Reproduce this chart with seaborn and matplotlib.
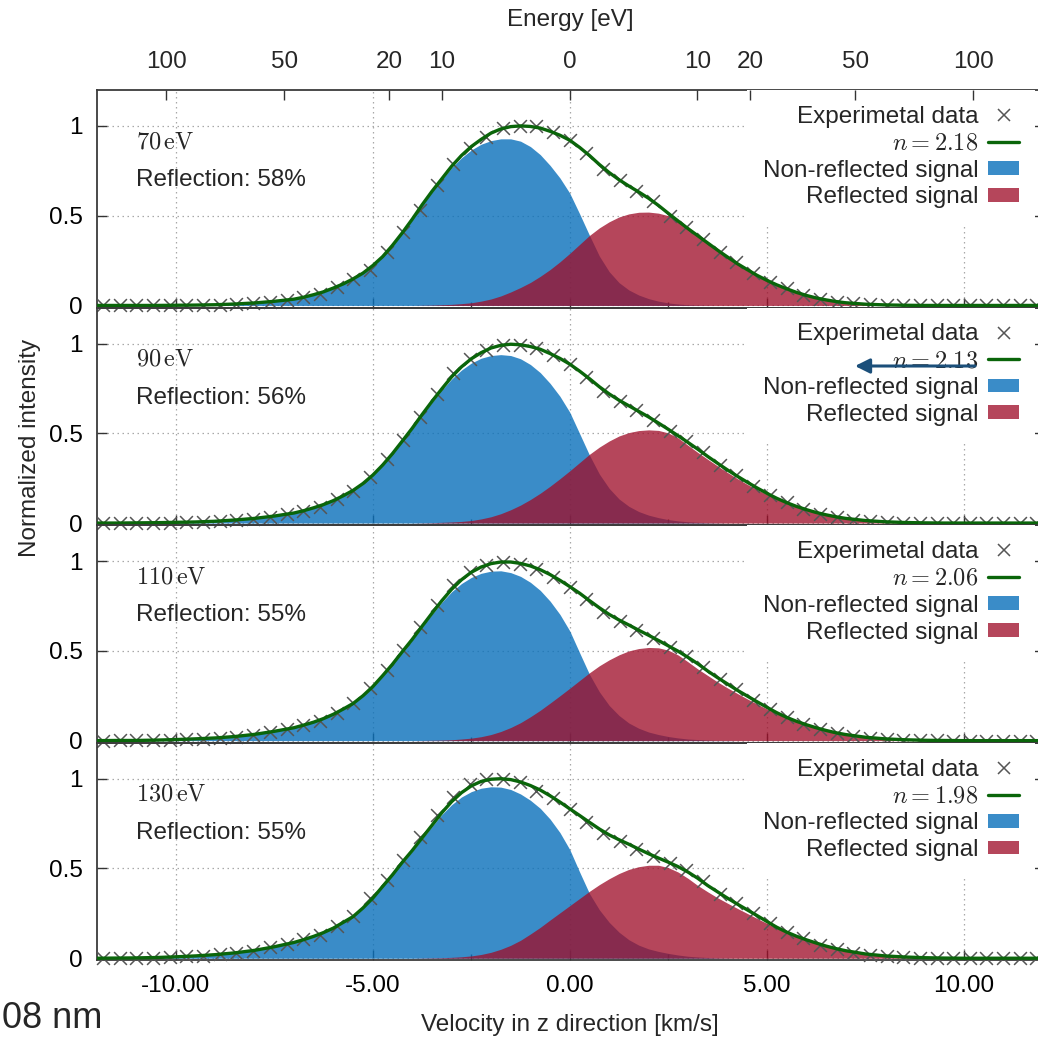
import numpy as np
import matplotlib
matplotlib.use("Agg")
import matplotlib.pyplot as plt
import seaborn as sns
from matplotlib.lines import Line2D
from matplotlib.patches import Patch

# ---------------- data ----------------
VEL = [-12.0, -11.5, -11.0, -10.5, -10.0, -9.5, -9.0, -8.5, -8.0, -7.5,
       -7.0, -6.75, -6.5, -6.25, -6.0, -5.75, -5.5, -5.25, -5.0, -4.75, -4.5, -4.25,
       -4.0, -3.75, -3.5, -3.25, -3.0, -2.75, -2.5, -2.25, -2.0, -1.75, -1.5, -1.25,
       -1.0, -0.75, -0.5, -0.25, 0.0, 0.25, 0.5, 0.75, 1.0, 1.25, 1.5, 1.75, 2.0, 2.25,
       2.5, 2.75, 3.0, 3.25, 3.5, 3.75, 4.0, 4.25, 4.5, 4.75, 5.0, 5.25, 5.5, 5.75, 6.0,
       6.25, 6.5, 6.75, 7.0,
       7.5, 8.0, 8.5, 9.0, 9.5, 10.0, 10.5, 11.0, 11.5, 12.0]

EXP_V = [-11.84, -11.42, -11.0, -10.57, -10.15, -9.73, -9.31, -8.88, -8.46, -8.04, -7.61,
         -7.19, -6.77, -6.35, -5.92, -5.5, -5.08, -4.65, -4.23, -3.81, -3.38, -2.96, -2.54,
         -2.12, -1.69, -1.27, -0.85, -0.42, 0.0, 0.42, 0.85, 1.27, 1.69, 2.12, 2.54, 2.96,
         3.38, 3.81, 4.23, 4.65, 5.08, 5.5, 5.92, 6.35, 6.77, 7.19, 7.61, 8.04, 8.46, 8.88,
         9.31, 9.73, 10.15, 10.57, 11.0, 11.42, 11.84]

ENERGIES = ["70", "90", "110", "130"]
REFLECTIONS = [58, 56, 55, 55]
N_VALUES = [2.18, 2.13, 2.06, 1.98]

EXP_70 = [0, 0, 0, 0, 0.001, 0.001, 0.003, 0.005, 0.008, 0.013, 0.02, 0.03, 0.045, 0.066,
          0.1, 0.145, 0.2, 0.3, 0.41, 0.53, 0.67, 0.79, 0.877, 0.94, 0.99, 1.0, 1.0, 0.965,
          0.92, 0.85, 0.76, 0.70, 0.64, 0.58, 0.50, 0.435, 0.37, 0.30, 0.24, 0.18, 0.13,
          0.095, 0.06, 0.036, 0.02, 0.011, 0.006, 0.003, 0.001, 0, 0, 0, 0, 0, 0, 0, 0]
EXP_90 = [0, 0, 0.001, 0.002, 0.003, 0.005, 0.008, 0.012, 0.017, 0.025, 0.036, 0.049, 0.069,
          0.092, 0.132, 0.181, 0.254, 0.354, 0.465, 0.588, 0.72, 0.833, 0.914, 0.963, 0.994,
          0.992, 0.974, 0.935, 0.884, 0.814, 0.736, 0.682, 0.628, 0.576, 0.512, 0.457, 0.394,
          0.324, 0.266, 0.208, 0.156, 0.115, 0.08, 0.052, 0.032, 0.019, 0.011, 0.006, 0.003,
          0.001, 0, 0, 0, 0, 0, 0, 0]
EXP_110 = [0, 0.001, 0.001, 0.003, 0.005, 0.007, 0.011, 0.017, 0.023, 0.033, 0.048, 0.063,
           0.087, 0.111, 0.156, 0.207, 0.295, 0.395, 0.506, 0.632, 0.758, 0.865, 0.942, 0.98,
           0.997, 0.986, 0.954, 0.913, 0.857, 0.787, 0.718, 0.669, 0.619, 0.573, 0.521, 0.474,
           0.412, 0.342, 0.286, 0.229, 0.176, 0.13, 0.095, 0.063, 0.041, 0.026, 0.016, 0.009,
           0.005, 0.002, 0.001, 0, 0, 0, 0, 0, 0]
EXP_130 = [0, 0.001, 0.002, 0.004, 0.006, 0.01, 0.015, 0.022, 0.03, 0.042, 0.06, 0.077, 0.105,
           0.13, 0.18, 0.234, 0.336, 0.436, 0.547, 0.676, 0.796, 0.897, 0.97, 0.998, 1.0, 0.98,
           0.934, 0.89, 0.83, 0.76, 0.70, 0.655, 0.61, 0.57, 0.53, 0.49, 0.43, 0.36, 0.305,
           0.25, 0.195, 0.145, 0.11, 0.075, 0.05, 0.032, 0.02, 0.011, 0.006, 0.003, 0.001,
           0, 0, 0, 0, 0, 0]

FIT_70 = [0, 0, 0, 0, 0.001, 0.002, 0.004, 0.008, 0.014, 0.023,
          0.035, 0.046, 0.06, 0.076, 0.097, 0.12, 0.148, 0.18, 0.222, 0.272, 0.335, 0.405,
          0.48, 0.56, 0.635, 0.705, 0.775, 0.835, 0.885, 0.925, 0.96, 0.983, 0.996, 1.0,
          0.997, 0.988, 0.97, 0.948, 0.92, 0.88, 0.835, 0.785, 0.74, 0.7, 0.665, 0.632,
          0.597, 0.557, 0.513, 0.47, 0.428, 0.388, 0.348, 0.308, 0.27, 0.233, 0.2, 0.168,
          0.14, 0.115, 0.093, 0.073, 0.056, 0.042, 0.031, 0.022, 0.015,
          0.007, 0.003, 0.001, 0, 0, 0, 0, 0, 0, 0]
FIT_90 = [0, 0, 0.001, 0.002, 0.004, 0.006, 0.01, 0.017, 0.026, 0.039,
          0.056, 0.069, 0.085, 0.103, 0.125, 0.152, 0.182, 0.22, 0.267, 0.323, 0.387, 0.457,
          0.528, 0.604, 0.677, 0.747, 0.814, 0.87, 0.915, 0.949, 0.975, 0.99, 0.996, 0.993,
          0.983, 0.968, 0.944, 0.917, 0.885, 0.846, 0.804, 0.759, 0.719, 0.684, 0.653, 0.622,
          0.591, 0.557, 0.522, 0.486, 0.449, 0.411, 0.371, 0.333, 0.296, 0.261, 0.228, 0.196,
          0.166, 0.138, 0.114, 0.093, 0.075, 0.059, 0.046, 0.035, 0.026,
          0.014, 0.007, 0.003, 0.001, 0, 0, 0, 0, 0, 0]
FIT_110 = [0, 0.001, 0.001, 0.003, 0.006, 0.01, 0.015, 0.023, 0.035, 0.052,
           0.072, 0.087, 0.103, 0.123, 0.147, 0.176, 0.207, 0.25, 0.301, 0.362, 0.426, 0.496,
           0.564, 0.637, 0.709, 0.779, 0.843, 0.896, 0.938, 0.967, 0.986, 0.995, 0.995, 0.987,
           0.973, 0.952, 0.925, 0.893, 0.858, 0.821, 0.78, 0.74, 0.703, 0.672, 0.644, 0.615,
           0.587, 0.558, 0.528, 0.498, 0.464, 0.428, 0.388, 0.351, 0.316, 0.281, 0.249, 0.217,
           0.186, 0.156, 0.13, 0.108, 0.089, 0.072, 0.057, 0.044, 0.034,
           0.019, 0.01, 0.005, 0.002, 0.001, 0, 0, 0, 0, 0]
FIT_130 = [0, 0.001, 0.002, 0.004, 0.008, 0.013, 0.02, 0.03, 0.044, 0.064,
           0.088, 0.104, 0.122, 0.143, 0.168, 0.2, 0.232, 0.28, 0.335, 0.4, 0.465, 0.535,
           0.6, 0.67, 0.74, 0.81, 0.872, 0.922, 0.96, 0.985, 0.997, 1.0, 0.995, 0.982,
           0.962, 0.937, 0.905, 0.87, 0.832, 0.795, 0.757, 0.72, 0.687, 0.66, 0.635, 0.608,
           0.582, 0.558, 0.535, 0.51, 0.48, 0.445, 0.405, 0.37, 0.335, 0.302, 0.27, 0.238,
           0.205, 0.173, 0.146, 0.123, 0.103, 0.085, 0.068, 0.054, 0.042,
           0.024, 0.013, 0.007, 0.003, 0.001, 0, 0, 0, 0, 0]

BLUE_70 = [0, 0, 0, 0, 0, 0.001, 0.003, 0.007, 0.013, 0.021,
           0.033, 0.044, 0.058, 0.074, 0.095, 0.118, 0.146, 0.178, 0.22, 0.27, 0.333, 0.403,
           0.478, 0.557, 0.632, 0.7, 0.767, 0.822, 0.866, 0.898, 0.918, 0.928, 0.928, 0.915,
           0.885, 0.84, 0.78, 0.71, 0.625, 0.51, 0.39, 0.275, 0.188, 0.127, 0.086, 0.058,
           0.038, 0.024, 0.014, 0.008, 0.004, 0.002, 0.001, 0, 0, 0, 0, 0,
           0, 0, 0, 0, 0, 0, 0, 0, 0,
           0, 0, 0, 0, 0, 0, 0, 0, 0, 0]
BLUE_90 = [0, 0, 0.001, 0.002, 0.003, 0.006, 0.01, 0.016, 0.025, 0.038,
           0.055, 0.068, 0.083, 0.101, 0.124, 0.15, 0.18, 0.218, 0.266, 0.322, 0.385, 0.455,
           0.525, 0.6, 0.672, 0.74, 0.802, 0.852, 0.891, 0.918, 0.933, 0.938, 0.933, 0.915,
           0.883, 0.838, 0.778, 0.706, 0.617, 0.498, 0.378, 0.273, 0.193, 0.134, 0.093, 0.064,
           0.044, 0.03, 0.019, 0.012, 0.007, 0.004, 0.002, 0.001, 0, 0, 0, 0,
           0, 0, 0, 0, 0, 0, 0, 0, 0,
           0, 0, 0, 0, 0, 0, 0, 0, 0, 0]
BLUE_110 = [0, 0.001, 0.001, 0.003, 0.006, 0.009, 0.015, 0.023, 0.035, 0.05,
            0.071, 0.085, 0.102, 0.122, 0.145, 0.175, 0.206, 0.249, 0.3, 0.36, 0.424, 0.493,
            0.561, 0.633, 0.703, 0.77, 0.829, 0.875, 0.909, 0.932, 0.944, 0.946, 0.936, 0.915,
            0.882, 0.837, 0.777, 0.703, 0.611, 0.489, 0.369, 0.272, 0.196, 0.14, 0.098, 0.069,
            0.048, 0.034, 0.023, 0.015, 0.009, 0.006, 0.003, 0.001, 0.001, 0, 0, 0,
            0, 0, 0, 0, 0, 0, 0, 0, 0,
            0, 0, 0, 0, 0, 0, 0, 0, 0, 0]
BLUE_130 = [0, 0.001, 0.002, 0.004, 0.008, 0.013, 0.02, 0.03, 0.044, 0.063,
            0.087, 0.103, 0.121, 0.142, 0.167, 0.199, 0.231, 0.279, 0.334, 0.399, 0.463, 0.532,
            0.596, 0.665, 0.733, 0.8, 0.855, 0.898, 0.928, 0.947, 0.955, 0.953, 0.94, 0.915,
            0.88, 0.835, 0.775, 0.7, 0.605, 0.48, 0.36, 0.27, 0.2, 0.145, 0.103, 0.073,
            0.052, 0.038, 0.027, 0.018, 0.011, 0.007, 0.004, 0.002, 0.001, 0, 0, 0,
            0, 0, 0, 0, 0, 0, 0, 0, 0,
            0, 0, 0, 0, 0, 0, 0, 0, 0, 0]

RED_70 = [0, 0, 0, 0, 0, 0, 0, 0, 0, 0,
          0, 0, 0, 0, 0, 0, 0, 0, 0, 0, 0, 0, 0,
          0.001, 0.002, 0.004, 0.006, 0.01, 0.015, 0.024, 0.036, 0.053, 0.075, 0.1, 0.128,
          0.162, 0.2, 0.243, 0.29, 0.34, 0.39, 0.432, 0.466, 0.493, 0.51, 0.519, 0.52, 0.514,
          0.5, 0.47, 0.425, 0.385, 0.345, 0.305, 0.265, 0.228, 0.194, 0.163, 0.135, 0.11,
          0.089, 0.07, 0.054, 0.04, 0.029, 0.021, 0.014,
          0.007, 0.003, 0.001, 0, 0, 0, 0, 0, 0, 0]
RED_90 = [0, 0, 0, 0, 0, 0, 0, 0, 0, 0,
          0, 0, 0, 0, 0, 0, 0, 0, 0, 0, 0, 0, 0,
          0.001, 0.002, 0.004, 0.006, 0.009, 0.014, 0.023, 0.035, 0.052, 0.074, 0.1, 0.131,
          0.166, 0.205, 0.247, 0.291, 0.337, 0.383, 0.423, 0.457, 0.485, 0.504, 0.515, 0.519,
          0.516, 0.502, 0.474, 0.433, 0.393, 0.355, 0.318, 0.282, 0.248, 0.216, 0.187, 0.159,
          0.133, 0.11, 0.09, 0.072, 0.057, 0.044, 0.033, 0.024,
          0.013, 0.006, 0.003, 0.001, 0, 0, 0, 0, 0, 0]
RED_110 = [0, 0, 0, 0, 0, 0, 0, 0, 0, 0,
           0, 0, 0, 0, 0, 0, 0, 0, 0, 0, 0, 0, 0,
           0.001, 0.002, 0.003, 0.005, 0.009, 0.014, 0.022, 0.034, 0.051, 0.073, 0.1, 0.133,
           0.169, 0.209, 0.25, 0.292, 0.335, 0.378, 0.417, 0.45, 0.478, 0.5, 0.513, 0.519,
           0.517, 0.504, 0.477, 0.439, 0.399, 0.363, 0.327, 0.294, 0.263, 0.233, 0.204, 0.177,
           0.151, 0.126, 0.105, 0.086, 0.07, 0.055, 0.043, 0.032,
           0.018, 0.009, 0.004, 0.002, 0.001, 0, 0, 0, 0, 0]
RED_130 = [0, 0, 0, 0, 0, 0, 0, 0, 0, 0,
           0, 0, 0, 0, 0, 0, 0, 0, 0, 0, 0, 0, 0,
           0.001, 0.002, 0.003, 0.005, 0.008, 0.013, 0.021, 0.033, 0.05, 0.072, 0.1, 0.135,
           0.172, 0.213, 0.253, 0.293, 0.333, 0.373, 0.41, 0.443, 0.472, 0.495, 0.51, 0.518,
           0.518, 0.505, 0.48, 0.445, 0.405, 0.37, 0.337, 0.307, 0.278, 0.25, 0.222, 0.195,
           0.168, 0.142, 0.12, 0.1, 0.083, 0.066, 0.052, 0.04,
           0.023, 0.012, 0.006, 0.003, 0.001, 0, 0, 0, 0, 0]

EXP_SETS = [EXP_70, EXP_90, EXP_110, EXP_130]
FIT_SETS = [FIT_70, FIT_90, FIT_110, FIT_130]
BLUE_SETS = [BLUE_70, BLUE_90, BLUE_110, BLUE_130]
RED_SETS = [RED_70, RED_90, RED_110, RED_130]

X_TICKS = [-10, -5, 0, 5, 10]
X_TICK_LABELS = ["-10.00", "-5.00", "0.00", "5.00", "10.00"]
Y_TICKS = [0, 0.5, 1]
Y_TICK_LABELS = ["0", "0.5", "1"]
E_TICKS = [-100, -50, -20, -10, 0, 10, 20, 50, 100]
E_TICK_LABELS = ["100", "50", "20", "10", "0", "10", "20", "50", "100"]

# ---------------- style ----------------
sns.set_style("ticks")
plt.rcParams["font.family"] = ["Liberation Sans", "DejaVu Sans"]
plt.rcParams["mathtext.fontset"] = "cm"

FS = 17.5
BLUE, BLUE_A = "#0970BB", 0.8
RED, RED_A = "#9F0E29", 0.77
GREEN = "#0A650A"
CROSS = "#555555"
SPINE = "#3c3c3c"

fig = plt.figure(figsize=(10.38, 10.38), dpi=100)
fig.patch.set_facecolor("white")
px = 1 / 1038
L, W = 97 * px, 945.6 * px
TOP, H = 1 - 90 * px, 217.6 * px

# tungsten atom: v = sqrt(2E/m)
M_W = 183.84 * 1.66054e-27
QE = 1.602177e-19

axes = []
for i in range(4):
    ax = fig.add_axes([L, TOP - (i + 1) * H, W, H])
    ax.set_facecolor("none")
    ax.set_axisbelow(True)
    ax.grid(True, which="major", color="#a8a8a8", lw=0.9, ls=(0, (1.2, 2.8)))

    ax.fill_between(VEL, BLUE_SETS[i], color=BLUE, alpha=BLUE_A, lw=0, zorder=1)
    ax.fill_between(VEL, RED_SETS[i], color=RED, alpha=RED_A, lw=0, zorder=1.1)
    sns.scatterplot(x=EXP_V, y=EXP_SETS[i], marker="x", s=85, color=CROSS,
                    linewidth=1.1, ax=ax, zorder=3, clip_on=False, legend=False)
    sns.lineplot(x=VEL, y=FIT_SETS[i], color=GREEN, lw=2.4, ax=ax, zorder=4,
                 estimator=None, legend=False)

    ax.set_xlim(-12, 12)
    ax.set_ylim(-0.012, 1.2)
    ax.set_xlabel("")
    ax.set_ylabel("")
    ax.set_xticks(X_TICKS)
    ax.set_xticks([-2.5, 2.5], minor=True)
    ax.set_yticks(Y_TICKS)
    ax.set_yticklabels(Y_TICK_LABELS)
    if i == 3:
        ax.set_xticklabels(X_TICK_LABELS)
    else:
        ax.set_xticklabels([])
    ax.tick_params(which="both", direction="in", top=False, bottom=True, left=True,
                   right=True, color="#333333", labelcolor="black", labelsize=FS)
    ax.tick_params(which="major", length=7, width=1.0, pad=10.5)
    ax.tick_params(which="minor", length=4, width=1.0)
    for s in ax.spines.values():
        s.set_color(SPINE)
        s.set_linewidth(1.3)

    ax.text(0.041, 0.761, rf"${ENERGIES[i]}\,\mathrm{{eV}}$", transform=ax.transAxes,
            fontsize=FS, ha="left", va="center")
    ax.text(0.041, 0.586, f"Reflection: {REFLECTIONS[i]}%", transform=ax.transAxes,
            fontsize=FS, ha="left", va="center")

    handles = [
        Line2D([], [], marker="x", ls="none", color=CROSS, markersize=9, mew=1.1),
        Line2D([], [], color=GREEN, lw=2.4),
        Patch(facecolor=BLUE, alpha=BLUE_A, lw=0),
        Patch(facecolor=RED, alpha=RED_A, lw=0),
    ]
    labels = ["Experimetal data", rf"$n = {N_VALUES[i]:.2f}$",
              "Non-reflected signal", "Reflected signal"]
    leg = ax.legend(handles, labels, loc="upper right", bbox_to_anchor=(0.9915, 1.0),
                    markerfirst=False, frameon=True, fancybox=False, framealpha=1,
                    facecolor="white", edgecolor="none", fontsize=FS, handlelength=1.25,
                    handleheight=0.5, handletextpad=0.4, labelspacing=0.2,
                    borderpad=0.65, borderaxespad=0.0)
    leg.set_zorder(6)
    axes.append(ax)

# top energy axis on the first panel
ax_top = axes[0].twiny()
ax_top.set_xlim(-12, 12)
e_arr = np.array(E_TICKS, dtype=float)
e_pos = np.sign(e_arr) * np.sqrt(2 * np.abs(e_arr) * QE / M_W) / 1000.0
ax_top.set_xticks(e_pos)
ax_top.set_xticklabels(E_TICK_LABELS)
ax_top.tick_params(axis="x", direction="in", length=7, width=1.0, pad=12,
                   labelsize=FS, color="#333333")
ax_top.patch.set_visible(False)
for s in ax_top.spines.values():
    s.set_visible(False)

# arrow overlay in second panel
axes[1].annotate("", xy=(0.8016, 0.7316), xytext=(0.9285, 0.7316),
                 xycoords="axes fraction", textcoords="axes fraction",
                 arrowprops=dict(arrowstyle="-|>", color="#1B4F7A", lw=2.2,
                                 mutation_scale=22, shrinkA=0, shrinkB=0),
                 zorder=10, annotation_clip=False)

fig.text(570 * px, 1 - 20 * px, "Energy [eV]", ha="center", va="center", fontsize=FS)
fig.text(570 * px, 1 - 1025 * px, "Velocity in z direction [km/s]", ha="center",
         va="center", fontsize=FS)
fig.text(30 * px, 1 - 448 * px, "Normalized intensity", rotation=90, ha="center",
         va="center", fontsize=FS)
fig.text(2 * px, 1 - 1018 * px, "08 nm", ha="left", va="center", fontsize=26)

fig.savefig("out.png", dpi=100)
